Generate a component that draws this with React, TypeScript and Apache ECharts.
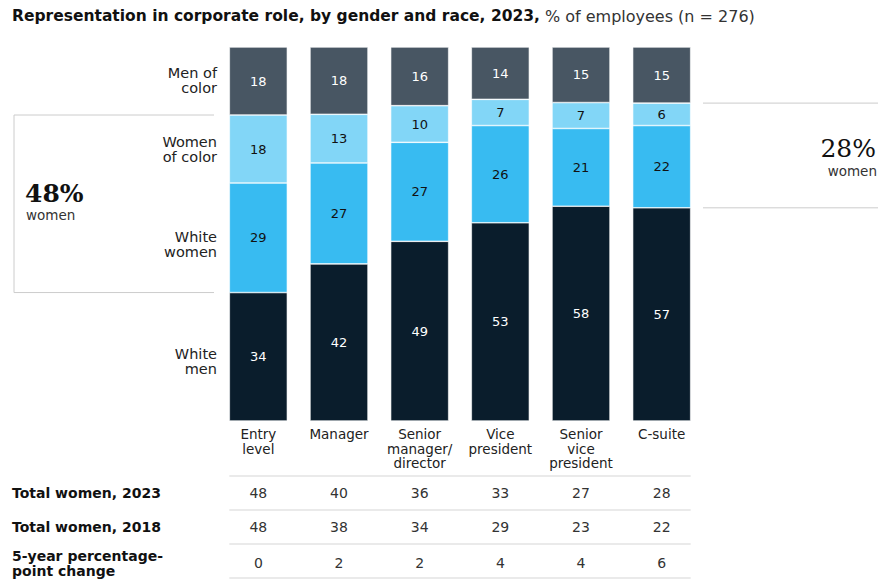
import React, { useEffect, useRef } from "react";
import * as echarts from "echarts";

const categories = ["Entry\nlevel", "Manager", "Senior\nmanager/\ndirector", "Vice\npresident", "Senior\nvice\npresident", "C-suite"];
const whiteMen = [34, 42, 49, 53, 58, 57];
const whiteWomen = [29, 27, 27, 26, 21, 22];
const womenOfColor = [18, 13, 10, 7, 7, 6];
const menOfColor = [18, 18, 16, 14, 15, 15];
const totalWomen2023 = [48, 40, 36, 33, 27, 28];
const totalWomen2018 = [48, 38, 34, 29, 23, 22];
const change5yr = [0, 2, 2, 4, 4, 6];
const segmentNames = ["White\nmen", "White\nwomen", "Women\nof color", "Men of\ncolor"];
const rowHeaders = ["Total women, 2023", "Total women, 2018", "5-year percentage-\npoint change"];

const SANS = "'DejaVu Sans', Verdana, sans-serif";
const SERIF = "'DejaVu Serif', serif";

export default function App() {
  const ref = useRef<HTMLDivElement>(null);
  useEffect(() => {
    if (!ref.current) return;
    const chart = echarts.init(ref.current, null, { renderer: "svg" });
    const segs = [whiteMen, whiteWomen, womenOfColor, menOfColor];
    const colors = ["#0a1d2c", "#38bbf1", "#82d6f7", "#485663"];
    const labelColors = ["#ffffff", "#111111", "#111111", "#ffffff"];
    const sums = categories.map((_, i) => segs.reduce((a, s) => a + s[i], 0));
    const norm = segs.map((s) => s.map((v, i) => (v / sums[i]) * 100));

    const tableAxis = (data: number[], offset: number) => ({
      type: "category",
      data: data.map(String),
      position: "bottom",
      offset,
      axisLine: { show: false },
      axisTick: { show: false },
      axisLabel: { interval: 0, margin: 0, verticalAlign: "middle", fontSize: 14, color: "#333", fontFamily: SANS },
    });

    chart.setOption({
      animation: false,
      title: {
        left: 7,
        top: 2,
        text: "{b|Representation in corporate role, by gender and race, 2023,} {r|% of employees (n = 276)}",
        textStyle: {
          rich: {
            b: { fontSize: 15.5, fontWeight: "bold", color: "#111", fontFamily: SANS },
            r: { fontSize: 16, fontWeight: "normal", color: "#333", fontFamily: SANS },
          },
        },
      },
      grid: { left: 218, right: 176, top: 47, height: 374 },
      xAxis: [
        {
          type: "category",
          data: categories,
          axisLine: { show: false },
          axisTick: { show: false },
          axisLabel: { interval: 0, margin: 6, fontSize: 13.5, lineHeight: 14.5, color: "#222", fontFamily: SANS },
        },
        tableAxis(totalWomen2023, 72),
        tableAxis(totalWomen2018, 106),
        tableAxis(change5yr, 142),
      ],
      yAxis: { type: "value", min: 0, max: 100, show: false },
      series: segs.map((s, k) => ({
        type: "bar",
        name: segmentNames[k],
        stack: "all",
        barWidth: 58,
        xAxisIndex: 0,
        data: norm[k],
        itemStyle: { color: colors[k], borderColor: "#ffffff", borderWidth: 0.6 },
        label: {
          show: true,
          position: "inside",
          formatter: (p: any) => String(s[p.dataIndex]),
          color: labelColors[k],
          fontSize: 13,
          fontFamily: SANS,
        },
      })),
    });

    const px = (i: number, v: number) => chart.convertToPixel({ gridIndex: 0 }, [i, v]) as number[];
    const g: any[] = [];
    // left segment labels (aligned with entry-level bar)
    const nudge = [5, 7, 0, -1];
    let cum = 0;
    norm.forEach((n, k) => {
      const y = px(0, cum + n[0] / 2)[1];
      cum += n[0];
      g.push({
        type: "text",
        x: 217,
        y: y + nudge[k],
        style: { text: segmentNames[k], align: "right", verticalAlign: "middle", fontSize: 14.5, lineHeight: 15, fill: "#222", fontFamily: SANS },
      });
    });
    // left bracket
    const yTopL = px(0, norm[0][0] + norm[1][0] + norm[2][0])[1];
    const yBotL = px(0, norm[0][0])[1];
    const lc = { stroke: "#cccccc", lineWidth: 1 };
    g.push({ type: "polyline", shape: { points: [[214, yTopL], [14, yTopL], [14, yBotL], [214, yBotL]] }, style: { ...lc, fill: null } });
    const midL = (yTopL + yBotL) / 2;
    g.push({ type: "text", x: 25, y: midL - 10, style: { text: `${totalWomen2023[0]}%`, verticalAlign: "middle", fontSize: 25, fontWeight: "bold", fill: "#111", fontFamily: SERIF } });
    g.push({ type: "text", x: 26, y: midL + 11, style: { text: "women", verticalAlign: "middle", fontSize: 13.5, fill: "#333", fontFamily: SANS } });
    // right bracket (C-suite)
    const last = categories.length - 1;
    const yTopR = px(last, norm[0][last] + norm[1][last] + norm[2][last])[1];
    const yBotR = px(last, norm[0][last])[1];
    g.push({ type: "line", shape: { x1: 703, y1: yTopR, x2: 878, y2: yTopR }, style: lc });
    g.push({ type: "line", shape: { x1: 703, y1: yBotR, x2: 878, y2: yBotR }, style: lc });
    const midR = (yTopR + yBotR) / 2;
    g.push({ type: "text", x: 876, y: midR - 7, style: { text: `${totalWomen2023[last]}%`, align: "right", verticalAlign: "middle", fontSize: 25, fill: "#111", fontFamily: SERIF } });
    g.push({ type: "text", x: 877, y: midR + 16, style: { text: "women", align: "right", verticalAlign: "middle", fontSize: 13.5, fill: "#333", fontFamily: SANS } });
    // table separators and row headers
    const x0 = px(0, 0)[0] - 29;
    const x1 = px(last, 0)[0] + 29;
    [476, 510, 544, 578].forEach((y) => {
      g.push({ type: "line", shape: { x1: x0, y1: y, x2: x1, y2: y }, style: { stroke: "#e3e3e3", lineWidth: 1.5 } });
    });
    [493, 527, 563].forEach((y, r) => {
      g.push({
        type: "text",
        x: 12,
        y,
        style: { text: rowHeaders[r], verticalAlign: "middle", fontSize: 14, lineHeight: 15, fontWeight: "bold", fill: "#111", fontFamily: SANS },
      });
    });
    chart.setOption({ graphic: g });
    return () => chart.dispose();
  }, []);
  return <div ref={ref} style={{ position: "fixed", left: 0, top: 0, width: 878, height: 580, background: "#fff" }} />;
}
